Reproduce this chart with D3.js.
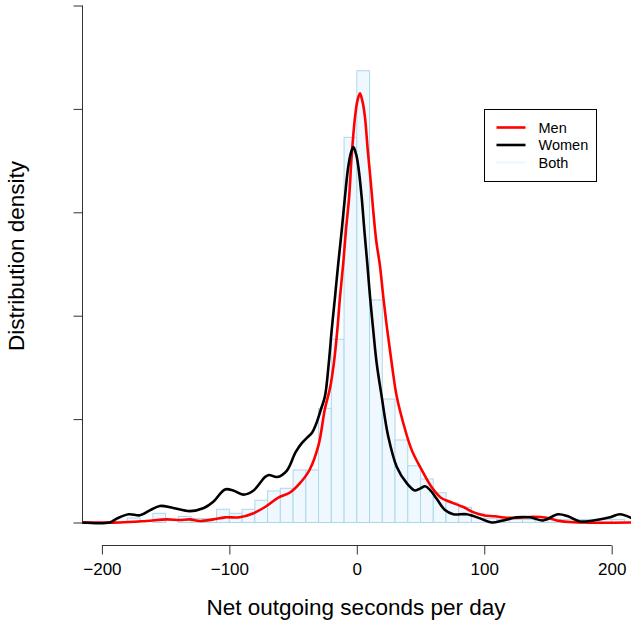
<!DOCTYPE html>
<html>
<head>
<meta charset="utf-8">
<script src="https://cdn.jsdelivr.net/npm/d3@7"></script>
<style>
    body { margin: 0; background: #ffffff; }
    svg { display: block; font-family: "Liberation Sans", Arial, Helvetica, sans-serif; }
</style>
</head>
<body>
<div id="chart"></div>
<script>
// histogram of both sexes, bin width 10 (left edge of each bin)
var binStarts = [ -180, -170, -160, -150, -140, -130, -120, -110, -100, -90, -80, -70, -60, -50, -40, -30, -20, -10,
                  0, 10, 20, 30, 40, 50, 60, 70, 80, 90, 100, 110, 120, 130, 140, 150, 160, 170, 180, 190, 200 ];
var binDensity = [ 0.00044, 0, 0.00089, 0, 0.00058, 0.00039, 0.00037, 0.00128, 0.00089, 0.00128, 0.00215, 0.00305, 0.00331, 0.00508, 0.00508, 0.01104, 0.01772, 0.03725,
                   0.04369, 0.02152, 0.01194, 0.00798, 0.00549, 0.00421, 0.00288, 0.00191, 0.00147, 0.00089, 0.0004, 0.0003, 0.0003, 0.0003, 0.0003, 0.0003, 0.0003, 0.0003, 0.0003, 0.0003, 0.0003 ];

// kernel density of men
var menX = [ -216, -186, -165, -149, -139, -131, -123, -112.6, -103.4, -92, -81, -72, -61.6, -52.4, -44.6, -37, -30, -25, -21, -18,
             -15.3, -13.2, -10.6, -8.5, -6, -4, -1.4, 0.5, 2.5, 4.5, 6.4, 8.6, 10.9, 13, 15.3, 18.2, 20.8, 23.9, 27.4, 31.3,
             36.5, 43.1, 50.9, 58.8, 66, 73, 83.6, 91.4, 99.3, 108.4, 117.6, 128, 138.5, 149, 156.8, 170, 216 ];
var menDensity = [ 0, 0, 0.00015, 0.0003, 0.00024, 0.0003, 0.00015, 0.0003, 0.0005, 0.0005, 0.0009, 0.0015, 0.0024, 0.0029, 0.0038, 0.0051, 0.0075, 0.011, 0.013, 0.0154,
                   0.0186, 0.0218, 0.0251, 0.0283, 0.0315, 0.0355, 0.0392, 0.0408, 0.0415, 0.0407, 0.0392, 0.036, 0.033, 0.03, 0.0272, 0.0248, 0.0218, 0.0186, 0.0154, 0.0122,
                   0.0096, 0.007, 0.0051, 0.0034, 0.0024, 0.002, 0.0015, 0.001, 0.0007, 0.0006, 0.00046, 0.00046, 0.00056, 0.00046, 0.0002, 0.00002, 0 ];

// kernel density of women
var womenX = [ -216, -194, -188, -179, -170, -162, -154.5, -144, -131, -120, -112.6, -103.4, -97, -89, -81, -72, -69, -62.5, -55, -48,
               -43, -39, -35, -32, -28, -25, -22, -19.7, -17.1, -14.5, -11.8, -9.3, -6.7, -4.5, -2.7, -0.5, 1.2, 3.8, 5.9, 8.2,
               10.4, 12.9, 15.6, 19.5, 24.7, 31.3, 39.2, 45.7, 50, 53.5, 57, 62.7, 69.2, 75.7, 86.2, 96.7, 105.8, 114.9, 125.5, 135.9,
               146.3, 157.9, 165.7, 175.1, 185.6, 198.7, 206.5, 216 ];
var womenDensity = [ 0, 0, 0.0004, 0.0008, 0.0007, 0.0012, 0.0016, 0.0014, 0.0011, 0.0014, 0.002, 0.0032, 0.0031, 0.0027, 0.0031, 0.0044, 0.0046, 0.0044, 0.005, 0.0068,
                     0.0077, 0.0082, 0.0087, 0.0095, 0.011, 0.0122, 0.0154, 0.0186, 0.0218, 0.0251, 0.0283, 0.0315, 0.0344, 0.0358, 0.0363, 0.0356, 0.0344, 0.0315, 0.0283, 0.0251,
                     0.0218, 0.0186, 0.0154, 0.0122, 0.0083, 0.0054, 0.0038, 0.0031, 0.0033, 0.0035, 0.0032, 0.0023, 0.0012, 0.0008, 0.0008, 0.0004, 0, 0.0002, 0.0005, 0.0005,
                     0.0002, 0.0008, 0.0006, 0.0001, 0.0002, 0.0005, 0.0008, 0.0004 ];

var xTicks = [ -200, -100, 0, 100, 200 ];
var yTicks = [ 0, 0.01, 0.02, 0.03, 0.04, 0.05 ];
var legendLabels = [ 'Men', 'Women', 'Both' ];
var legendColors = [ '#ff0000', '#000000', '#f0f8ff' ];

var width = 631, height = 622;
var svg = d3.select( '#chart' ).append( 'svg' )
    .attr( 'width', width ).attr( 'height', height );

var x = d3.scaleLinear().domain( [ -215.3, 215.3 ] ).range( [ 82.4, 631.2 ] );
var y = d3.scaleLinear().domain( [ 0, 0.05 ] ).range( [ 522.5, 5.5 ] );
var binWidth = 10;

svg.append( 'clipPath' ).attr( 'id', 'plotArea' )
    .append( 'rect' ).attr( 'x', 82 ).attr( 'y', 0 ).attr( 'width', width - 82 ).attr( 'height', 545 );

var plot = svg.append( 'g' ).attr( 'clip-path', 'url(#plotArea)' );

// histogram
plot.selectAll( '.bar' )
    .data( binDensity )
    .enter().append( 'rect' )
    .attr( 'class', 'bar' )
    .attr( 'x', function( d, i ) { return x( binStarts[i] ); } )
    .attr( 'y', function( d ) { return y( d ); } )
    .attr( 'width', function( d, i ) { return x( binStarts[i] + binWidth ) - x( binStarts[i] ); } )
    .attr( 'height', function( d ) { return y( 0 ) - y( d ); } )
    .attr( 'fill', '#f0f8ff' )
    .attr( 'stroke', '#add8e6' )
    .attr( 'stroke-width', 1 );

var line = d3.line()
    .x( function( d ) { return x( d[0] ); } )
    .y( function( d ) { return y( d[1] ); } )
    .curve( d3.curveCatmullRom.alpha( 0.5 ) );

plot.append( 'path' )
    .datum( menX.map( function( v, i ) { return [ v, menDensity[i] ]; } ) )
    .attr( 'd', line )
    .attr( 'fill', 'none' )
    .attr( 'stroke', '#ff0000' )
    .attr( 'stroke-width', 2.6 )
    .attr( 'stroke-linejoin', 'round' );

plot.append( 'path' )
    .datum( womenX.map( function( v, i ) { return [ v, womenDensity[i] ]; } ) )
    .attr( 'd', line )
    .attr( 'fill', 'none' )
    .attr( 'stroke', '#000000' )
    .attr( 'stroke-width', 2.6 )
    .attr( 'stroke-linejoin', 'round' );

// axes, R style
var xAxis = d3.axisBottom( x ).tickValues( xTicks ).tickSize( 9 ).tickPadding( 8 )
    .tickFormat( function( d ) { return d < 0 ? '\u2212' + Math.abs( d ) : d; } );
var xg = svg.append( 'g' ).attr( 'transform', 'translate(0,545.5)' ).call( xAxis );
xg.select( '.domain' ).attr( 'd', 'M' + x( -200 ) + ',0H' + x( 200 ) );

var yAxis = d3.axisLeft( y ).tickValues( yTicks ).tickSize( 9 ).tickFormat( '' );
var yg = svg.append( 'g' ).attr( 'transform', 'translate(82.5,0)' ).call( yAxis );
yg.select( '.domain' ).attr( 'd', 'M0,' + y( 0.05 ) + 'V' + y( 0 ) );

svg.selectAll( '.domain, .tick line' ).attr( 'stroke', '#333' ).attr( 'stroke-width', 1 );
xg.selectAll( 'text' ).attr( 'font-size', 17 ).attr( 'fill', '#000' ).attr( 'font-family', null );

svg.append( 'text' )
    .attr( 'x', 356 ).attr( 'y', 615 )
    .attr( 'text-anchor', 'middle' )
    .attr( 'font-size', 22.5 )
    .text( 'Net outgoing seconds per day' );

svg.append( 'text' )
    .attr( 'transform', 'translate(24,256) rotate(-90)' )
    .attr( 'text-anchor', 'middle' )
    .attr( 'font-size', 22.5 )
    .text( 'Distribution density' );

// legend
var legend = svg.append( 'g' ).attr( 'transform', 'translate(484.5,109.5)' );
legend.append( 'rect' )
    .attr( 'width', 112 ).attr( 'height', 72 )
    .attr( 'fill', '#fff' ).attr( 'stroke', '#000' ).attr( 'stroke-width', 1 );

var items = legend.selectAll( '.legend' )
    .data( legendLabels )
    .enter().append( 'g' )
    .attr( 'class', 'legend' )
    .attr( 'transform', function( d, i ) { return 'translate(0,' + ( 18 + i * 17.5 ) + ')'; } );

items.append( 'line' )
    .attr( 'x1', 12 ).attr( 'x2', 41 )
    .attr( 'stroke', function( d, i ) { return legendColors[i]; } )
    .attr( 'stroke-width', 2.6 );

items.append( 'text' )
    .attr( 'x', 54 ).attr( 'y', 5 )
    .attr( 'font-size', 14.5 )
    .text( function( d ) { return d; } );
</script>
</body>
</html>
